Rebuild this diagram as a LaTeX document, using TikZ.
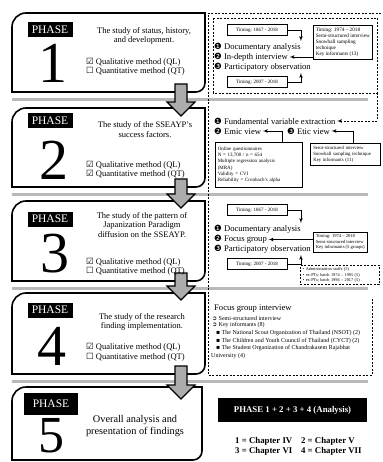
\documentclass[tikz,border=0pt]{standalone}
\usepackage{fontspec}
\setmainfont{Liberation Serif}
\newfontfamily\dingfont{DejaVu Sans}
\usetikzlibrary{arrows}

\begin{document}
\begin{tikzpicture}[x=1pt, y=-1pt]

\tikzset{frame/.style = {line width=1.6, line cap=rect}}
\tikzset{sep/.style = {gray!55, line width=3}}
\tikzset{blockarrow/.style = {fill=gray!65, draw=black, line width=1.1, line join=miter}}
\tikzset{phase/.style = {fill=black, text=white, inner sep=0, minimum width=45, minimum height=15, font=\fontsize{11.5}{13}\selectfont}}
\tikzset{digit/.style = {inner sep=0, font=\fontsize{58}{58}\selectfont}}
\tikzset{topic/.style = {align=center, inner sep=0, font=\fontsize{8.5}{9.6}\selectfont}}
\tikzset{method/.style = {anchor=west, inner sep=0, font=\fontsize{8.5}{9}\selectfont}}
\tikzset{tech/.style = {anchor=west, inner sep=0, font=\fontsize{8.6}{9}\selectfont}}
\tikzset{detail/.style = {anchor=west, inner sep=0, font=\fontsize{6}{7}\selectfont}}
\tikzset{timing/.style = {draw, line width=0.6, minimum width=60, minimum height=11, inner sep=0, font=\fontsize{5}{6}\selectfont}}
\tikzset{info/.style = {draw, line width=0.6, anchor=north west, align=left, inner sep=2.5, font=\fontsize{5.2}{6}\selectfont}}
\tikzset{edge/.style = {->, > = latex', line width=0.7, shorten >=1.5}}
\tikzset{dashline/.style = {dash pattern=on 2pt off 1.5pt, line width=0.7}}

\useasboundingbox (0,0) rectangle (382,462);

%separators
\foreach \y in {100,194,288,381}
  \draw[sep] (12,\y) -- (368,\y);

%phase frames
\foreach \t/\b/\r in {13/92/205, 108/187/205, 201/281/205, 293/374/205, 387/460/202} {
  \draw[frame, rounded corners=14] (12,\b) -- (12,\t) -- (\r,\t);
  \draw[frame, rounded corners=9] (\r,\t) -- (\r,\b) -- (12,\b);
}

%arrows between phases
\foreach \a/\b in {84/116, 179/208, 273/300, 366/399}
  \draw[blockarrow] (175,\a) -- (187,\a) -- (187,\b-14) -- (195,\b-14) -- (181,\b)
    -- (167,\b-14) -- (175,\b-14) -- cycle;

%phase 1
\node[phase] (p1) at (50,29.5) {PHASE};
\node[digit] (d1) at (53,63) {1};
\node[topic] (t1) at (144,36) {The study of status, history,\\and development.};
\node[method] (ql1) at (86,62) {{\dingfont ☑} Qualitative method (QL)};
\node[method] (qt1) at (86,71) {{\dingfont ☐} Quantitative method (QT)};

%phase 2
\node[phase] (p2) at (50,121) {PHASE};
\node[digit] (d2) at (54,160) {2};
\node[topic] (t2) at (145,129.5) {The study of the SSEAYP's\\success factors.};
\node[method] (ql2) at (86,165) {{\dingfont ☑} Qualitative method (QL)};
\node[method] (qt2) at (86,174) {{\dingfont ☑} Quantitative method (QT)};

%phase 3
\node[phase] (p3) at (50,219) {PHASE};
\node[digit] (d3) at (55,254) {3};
\node[topic] (t3) at (142,225) {The study of the pattern of\\Japanization Paradigm\\diffusion on the SSEAYP.};
\node[method] (ql3) at (86,262) {{\dingfont ☑} Qualitative method (QL)};
\node[method] (qt3) at (86,271) {{\dingfont ☐} Quantitative method (QT)};

%phase 4
\node[phase] (p4) at (50,310) {PHASE};
\node[digit] (d4) at (52,346) {4};
\node[topic] (t4) at (142,322) {The study of the research\\finding implementation.};
\node[method] (ql4) at (86,347) {{\dingfont ☑} Qualitative method (QL)};
\node[method] (qt4) at (86,357) {{\dingfont ☐} Quantitative method (QT)};

%phase 5
\node[phase, minimum width=54, minimum height=22] (p5) at (51,404) {PHASE};
\node[digit, font=\fontsize{52}{52}\selectfont] (d5) at (51,436) {5};
\node[topic, font=\fontsize{10.3}{12}\selectfont] (t5) at (135,426) {Overall analysis and\\presentation of findings};

%right column frames
\draw[dashline] (381,13) -- (208,13) -- (208,375) -- (372,375) -- (372,298);
\draw[dashline] (213,18) rectangle (377,93);
\coordinate (panelA) at (377,93);

%phase 1 details
\node[timing] (tA) at (257,30) {Timing: 1867 - 2018};
\node[tech] (docA) at (214,47) {{\dingfont ❶} Documentary analysis};
\node[tech] (intA) at (214,57) {{\dingfont ❷} In-depth interview};
\node[tech] (parA) at (214,67) {{\dingfont ❸} Participatory observation};
\node[timing] (tB) at (257,82) {Timing: 2007 - 2018};
\node[info] (infoA) at (313,25) {Timing: 1974 -- 2018\\Semi-structured interview\\Snowball sampling\\technique\\Key informants (13)};
\draw[edge] (tA.east) -| (docA.north east);
\draw[edge] (tB.east) -| (parA.south -| docA.east);
\draw[edge] (intA.east -| infoA.west) -- (intA.east);

%phase 2 details
\node[tech] (fve) at (214,121) {{\dingfont ❶} Fundamental variable extraction};
\node[tech] (emic) at (214,131) {{\dingfont ❷} Emic view};
\node[tech] (etic) at (287,131) {{\dingfont ❸} Etic view};
\node[info, text width=82pt, minimum height=45, font=\fontsize{5}{6.3}\selectfont] (emicbox) at (215,142) {Online questionnaires\\N = 13,700 / n = 654\\Multiple regression analysis\\(MRA)\\Validity = CVI\\Reliability = Cronbach's alpha};
\node[info, text width=64pt, font=\fontsize{4.8}{6}\selectfont, inner sep=3] (eticbox) at (310,143) {Semi-structured interview\\Snowball sampling technique\\Key informants (11)};
\draw[edge, dashline] (panelA) |- (fve.east);
\draw[edge] ([xshift=24]emicbox.north) |- (emic.east);
\draw[edge] ([xshift=8]eticbox.north) |- (etic.east);

%phase 3 details
\node[timing] (tC) at (257,210) {Timing: 1867 - 2018};
\node[tech] (docB) at (214,229) {{\dingfont ❶} Documentary analysis};
\node[tech] (focB) at (214,239.5) {{\dingfont ❷} Focus group};
\node[tech] (parB) at (214,249) {{\dingfont ❸} Participatory observation};
\node[timing] (tD) at (257,264) {Timing: 2007 - 2018};
\node[info, font=\fontsize{4.6}{5.4}\selectfont] (infoC) at (313,232) {Timing: 1974 -- 2018\\Semi-structured interview\\Key informants (5 groups)};
\node[info, dashline, text width=74pt, font=\fontsize{4.3}{5.2}\selectfont] (staff) at (300,265) {\textbullet{} Administration staffs (5)\\\textbullet{} ex-PTs; batch 1974 -- 1995 (5)\\\textbullet{} ex-PTs; batch 1996 -- 2017 (5)};
\draw[edge] (tC.east) -| (docB.north east);
\draw[edge] (tD.east) -| (parB.south -| docB.east);
\draw[edge] (focB.east -| infoC.west) -- (focB.east);

%phase 4 details
\node[tech] (fgi) at (214,309) {Focus group interview};
\node[detail] (semi) at (212,318) {{\dingfont ➲} Semi-structured interview};
\node[detail] (key) at (212,325.5) {{\dingfont ➲} Key informants (8)};
\node[detail] (nsot) at (216,333) {{\dingfont ▪} The National Scout Organization of Thailand (NSOT) (2)};
\node[detail] (cyct) at (216,341) {{\dingfont ▪} The Children and Youth Council of Thailand (CYCT) (2)};
\node[detail] (sorg) at (216,348.5) {{\dingfont ▪} The Student Organization of Chandrakasem Rajabhat};
\node[detail] (univ) at (211,356) {University (4)};

%phase 5 details
\node[phase, minimum width=149, minimum height=24, font=\bfseries\fontsize{8.8}{10}\selectfont] (sum) at (292.5,410) {PHASE 1 + 2 + 3 + 4 (Analysis)};
\node[anchor=west, align=left, inner sep=0, font=\bfseries\fontsize{8.8}{10}\selectfont] (chap) at (235,446) {1 = Chapter IV\quad 2 = Chapter V\\3 = Chapter VI\quad 4 = Chapter VII};

\end{tikzpicture}
\end{document}
